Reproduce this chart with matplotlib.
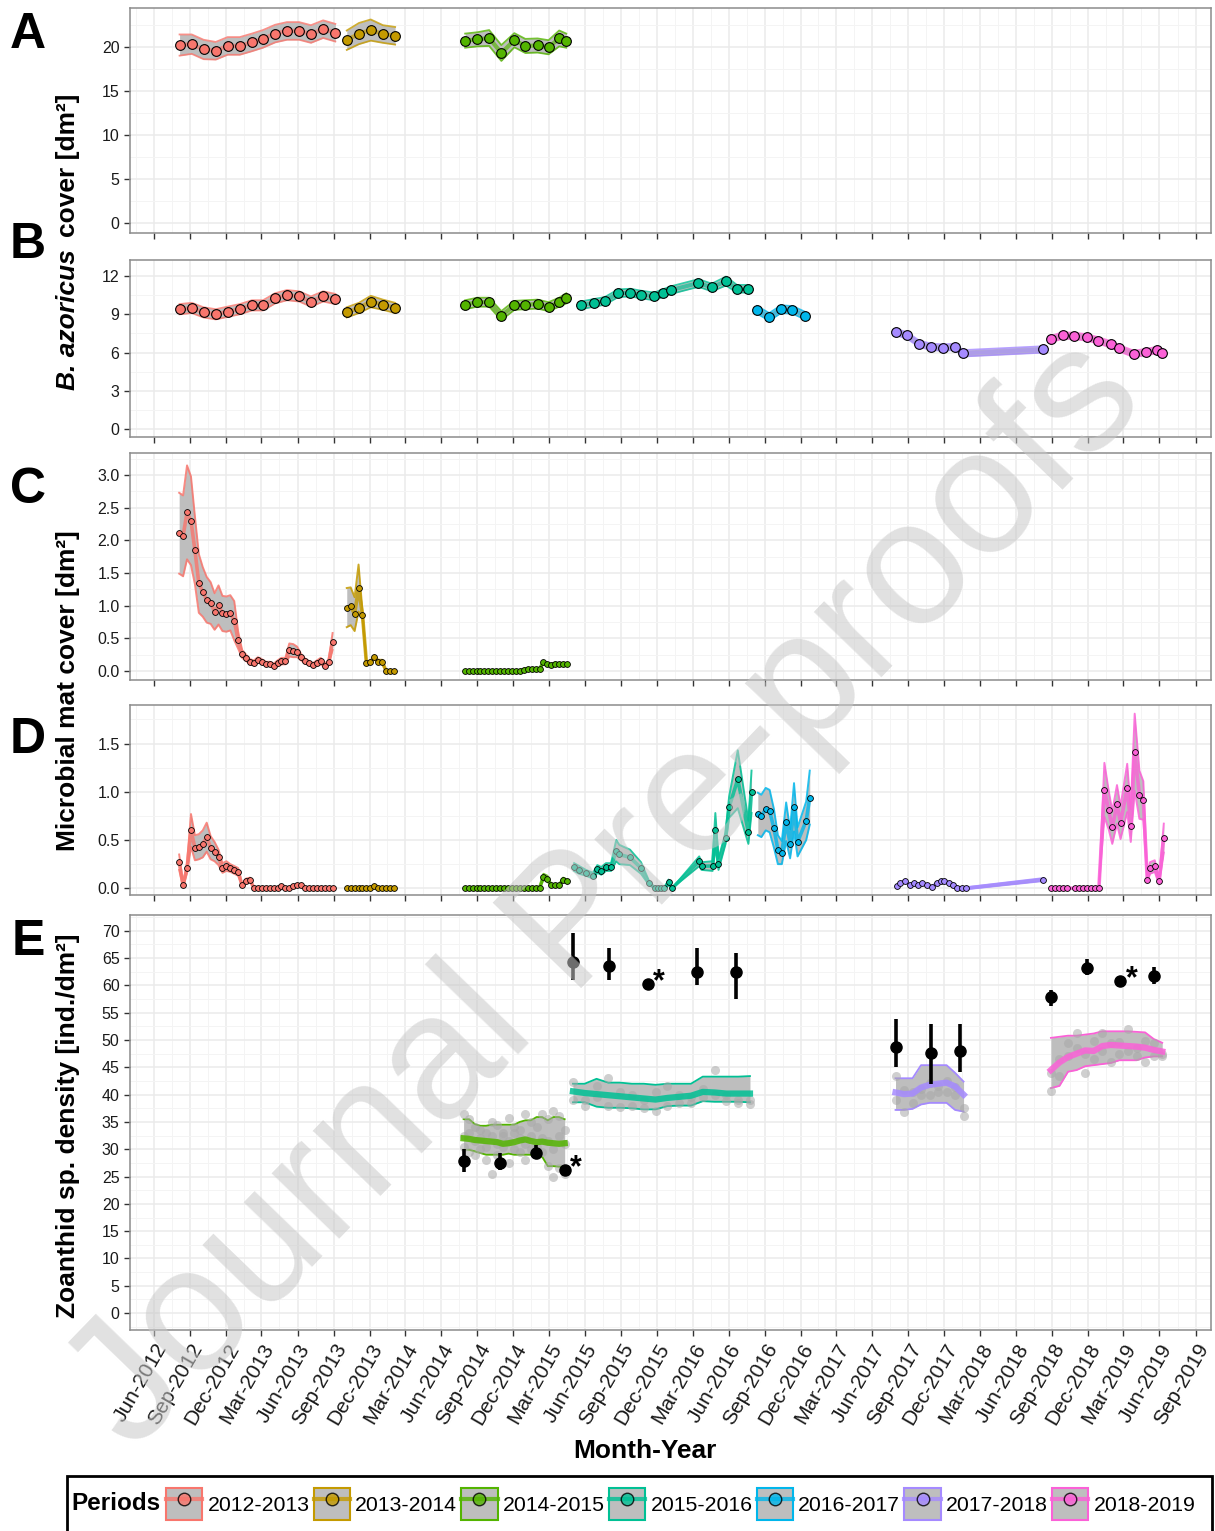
import numpy as np
import pandas as pd
import matplotlib
matplotlib.use('Agg')
import matplotlib.pyplot as plt
import matplotlib.dates as mdates
from matplotlib.ticker import MultipleLocator, FixedLocator, FormatStrFormatter
from matplotlib.patches import Patch, Rectangle
from matplotlib.lines import Line2D
from matplotlib.legend_handler import HandlerTuple

plt.rcParams['font.family'] = ['Liberation Sans', 'DejaVu Sans']

periods = ['2012-2013', '2013-2014', '2014-2015', '2015-2016', '2016-2017', '2017-2018', '2018-2019']
colors = ['#F8766D', '#C49A00', '#53B400', '#00C094', '#00B6EB', '#A58AFF', '#FB61D7']

# ---------------- panels A and B (monthly B. azoricus cover) ----------------
ab_dates_1213 = pd.date_range('2012-08-01', periods=14, freq='MS') + pd.Timedelta(days=4)
ab_dates_1314 = pd.date_range('2013-10-01', periods=5, freq='MS') + pd.Timedelta(days=3)
ab_dates_1415 = pd.to_datetime(['2014-08-01', '2014-09-01', '2014-10-01', '2014-11-01', '2014-12-04',
                                '2015-01-01', '2015-02-01', '2015-03-01', '2015-03-28', '2015-04-15'])
b_dates_1516 = pd.to_datetime(['2015-05-22', '2015-06-25', '2015-07-22', '2015-08-25', '2015-09-25',
                               '2015-10-22', '2015-11-25', '2015-12-16', '2016-01-07', '2016-03-16',
                               '2016-04-19', '2016-05-25', '2016-06-22', '2016-07-19'])
b_dates_1617 = pd.to_datetime(['2016-08-12', '2016-09-12', '2016-10-12', '2016-11-10', '2016-12-12'])
b_dates_1718 = pd.to_datetime(['2017-08-01', '2017-08-28', '2017-09-28', '2017-10-28', '2017-11-28',
                               '2017-12-28', '2018-01-18', '2018-08-10'])
b_dates_1819 = pd.to_datetime(['2018-08-28', '2018-09-28', '2018-10-28', '2018-11-28', '2018-12-28',
                               '2019-01-28', '2019-02-18', '2019-03-28', '2019-04-28', '2019-05-25',
                               '2019-06-07'])

a_1213 = [20.2, 20.3, 19.7, 19.55, 20.1, 20.1, 20.5, 20.9, 21.5, 21.8, 21.8, 21.45, 22.0, 21.6]
a_1213_se = [1.2, 1.1, 1.1, 1.0, 1.0, 1.0, 1.0, 1.0, 1.0, 1.0, 1.0, 1.0, 1.0, 1.0]
a_1314 = [20.75, 21.5, 21.9, 21.45, 21.25]
a_1314_se = [1.1, 1.2, 1.2, 1.0, 1.0]
a_1415 = [20.7, 20.85, 21.0, 19.3, 20.75, 20.1, 20.15, 19.95, 20.95, 20.7]
a_1415_se = [0.8, 0.8, 0.9, 0.9, 0.8, 0.8, 0.8, 0.8, 0.9, 0.8]

b_1213 = [9.4, 9.5, 9.15, 9.0, 9.2, 9.4, 9.7, 9.7, 10.25, 10.5, 10.4, 10.0, 10.4, 10.2]
b_1213_se = [0.4, 0.4, 0.4, 0.4, 0.4, 0.4, 0.4, 0.4, 0.4, 0.4, 0.4, 0.4, 0.4, 0.4]
b_1314 = [9.15, 9.5, 10.0, 9.75, 9.5]
b_1314_se = [0.4, 0.4, 0.45, 0.4, 0.4]
b_1415 = [9.75, 9.95, 9.95, 8.9, 9.7, 9.75, 9.8, 9.6, 9.95, 10.25]
b_1415_se = [0.35, 0.35, 0.35, 0.35, 0.35, 0.35, 0.35, 0.35, 0.35, 0.4]
b_1516 = [9.7, 9.9, 10.05, 10.65, 10.7, 10.55, 10.4, 10.65, 10.9, 11.45, 11.1, 11.6, 11.0, 11.0]
b_1516_se = [0.3, 0.3, 0.3, 0.3, 0.3, 0.3, 0.3, 0.3, 0.3, 0.3, 0.3, 0.35, 0.3, 0.3]
b_1617 = [9.35, 8.8, 9.4, 9.35, 8.9]
b_1617_se = [0.3, 0.3, 0.3, 0.3, 0.3]
b_1718 = [7.6, 7.35, 6.7, 6.45, 6.4, 6.45, 5.95, 6.25]
b_1718_se = [0.25, 0.25, 0.25, 0.25, 0.25, 0.25, 0.25, 0.25]
b_1819 = [7.05, 7.35, 7.3, 7.2, 6.95, 6.65, 6.35, 5.9, 6.05, 6.2, 6.0]
b_1819_se = [0.25, 0.25, 0.25, 0.25, 0.25, 0.25, 0.25, 0.25, 0.25, 0.25, 0.25]

# ---------------- panels C and D (microbial mat cover) ----------------
cd_dates_1213 = pd.date_range('2012-08-04', periods=40, freq='10D')
cd_dates_1314 = pd.date_range('2013-10-04', periods=13, freq='10D')
cd_dates_1415 = pd.date_range('2014-07-31', periods=27, freq='10D')

c_1213 = [2.11, 2.07, 2.43, 2.30, 1.85, 1.34, 1.21, 1.09, 1.04, 0.91,
          1.01, 0.88, 0.87, 0.89, 0.77, 0.47, 0.26, 0.20, 0.14, 0.12,
          0.17, 0.14, 0.11, 0.11, 0.08, 0.12, 0.15, 0.15, 0.32, 0.31,
          0.29, 0.21, 0.15, 0.12, 0.09, 0.12, 0.15, 0.08, 0.13, 0.45]
c_1213_se = [0.62, 0.62, 0.72, 0.68, 0.52, 0.45, 0.38, 0.35, 0.32, 0.28,
             0.30, 0.27, 0.27, 0.27, 0.30, 0.13, 0.06, 0.05, 0.04, 0.04,
             0.04, 0.04, 0.03, 0.03, 0.03, 0.04, 0.05, 0.05, 0.10, 0.10,
             0.08, 0.05, 0.04, 0.03, 0.03, 0.04, 0.05, 0.03, 0.04, 0.13]
c_1314 = [0.97, 0.99, 0.87, 1.27, 0.86, 0.12, 0.13, 0.21, 0.14, 0.14, 0.0, 0.0, 0.0]
c_1314_se = [0.30, 0.29, 0.26, 0.36, 0.06, 0.03, 0.02, 0.03, 0.03, 0.03, 0.0, 0.0, 0.0]
c_1415 = [0.0, 0.0, 0.0, 0.0, 0.0, 0.0, 0.0, 0.0, 0.0, 0.0, 0.0, 0.0, 0.0, 0.0, 0.0,
          0.02, 0.03, 0.03, 0.03, 0.03, 0.13, 0.10, 0.09, 0.11, 0.10, 0.10, 0.10]
c_1415_se = [0.0, 0.0, 0.0, 0.0, 0.0, 0.0, 0.0, 0.0, 0.0, 0.0, 0.0, 0.0, 0.0, 0.0, 0.0,
             0.01, 0.01, 0.01, 0.01, 0.01, 0.02, 0.02, 0.02, 0.02, 0.02, 0.02, 0.02]

d_1213 = [0.27, 0.03, 0.21, 0.60, 0.42, 0.43, 0.46, 0.53, 0.42, 0.38,
          0.32, 0.21, 0.23, 0.21, 0.19, 0.17, 0.03, 0.08, 0.09, 0.0,
          0.0, 0.0, 0.0, 0.0, 0.0, 0.0, 0.02, 0.0, 0.0, 0.02,
          0.03, 0.03, 0.0, 0.0, 0.0, 0.0, 0.0, 0.0, 0.0, 0.0]
d_1213_se = [0.08, 0.02, 0.05, 0.17, 0.13, 0.13, 0.14, 0.15, 0.12, 0.10,
             0.08, 0.05, 0.05, 0.04, 0.04, 0.04, 0.01, 0.02, 0.02, 0.0,
             0.0, 0.0, 0.0, 0.0, 0.0, 0.0, 0.01, 0.0, 0.0, 0.01,
             0.01, 0.01, 0.0, 0.0, 0.0, 0.0, 0.0, 0.0, 0.0, 0.0]
d_1314 = [0.0, 0.0, 0.0, 0.0, 0.0, 0.0, 0.0, 0.02, 0.0, 0.0, 0.0, 0.0, 0.0]
d_1314_se = [0.0, 0.0, 0.0, 0.0, 0.0, 0.0, 0.0, 0.01, 0.0, 0.0, 0.0, 0.0, 0.0]
d_1415 = [0.0, 0.0, 0.0, 0.0, 0.0, 0.0, 0.0, 0.0, 0.0, 0.0, 0.0, 0.0, 0.0, 0.0, 0.0,
          0.0, 0.0, 0.0, 0.0, 0.0, 0.12, 0.10, 0.03, 0.03, 0.03, 0.09, 0.07]
d_1415_se = [0.0, 0.0, 0.0, 0.0, 0.0, 0.0, 0.0, 0.0, 0.0, 0.0, 0.0, 0.0, 0.0, 0.0, 0.0,
             0.0, 0.0, 0.0, 0.0, 0.0, 0.03, 0.03, 0.01, 0.01, 0.01, 0.02, 0.02]

d_dates_1516 = pd.to_datetime(['2015-05-05', '2015-05-18', '2015-06-04', '2015-06-22', '2015-07-03',
                               '2015-07-13', '2015-07-25', '2015-08-07', '2015-08-20', '2015-08-28',
                               '2015-09-24', '2015-10-22', '2015-11-12', '2015-11-27', '2015-12-04',
                               '2015-12-12', '2015-12-20', '2015-12-31', '2016-01-09', '2016-03-18',
                               '2016-03-24', '2016-04-21', '2016-04-28', '2016-05-06', '2016-05-24',
                               '2016-06-02', '2016-06-24', '2016-07-21', '2016-07-29'])
d_1516 = [0.22, 0.19, 0.16, 0.13, 0.20, 0.18, 0.22, 0.22, 0.39, 0.35,
          0.32, 0.21, 0.05, 0.0, 0.0, 0.0, 0.0, 0.06, 0.0, 0.28,
          0.23, 0.23, 0.60, 0.25, 0.52, 0.84, 1.13, 0.58, 1.0]
d_1516_se = [0.04, 0.04, 0.03, 0.03, 0.04, 0.04, 0.04, 0.04, 0.11, 0.10,
             0.08, 0.06, 0.02, 0.0, 0.0, 0.0, 0.0, 0.03, 0.0, 0.05,
             0.04, 0.05, 0.18, 0.06, 0.06, 0.11, 0.30, 0.12, 0.22]
d_dates_1617 = pd.to_datetime(['2016-08-14', '2016-08-23', '2016-09-03', '2016-09-13', '2016-09-24',
                               '2016-10-04', '2016-10-14', '2016-10-25', '2016-11-04', '2016-11-14',
                               '2016-11-23', '2016-12-15', '2016-12-24'])
d_1617 = [0.77, 0.75, 0.82, 0.80, 0.62, 0.40, 0.37, 0.69, 0.46, 0.84, 0.48, 0.70, 0.94]
d_1617_se = [0.22, 0.22, 0.22, 0.22, 0.20, 0.15, 0.12, 0.20, 0.15, 0.25, 0.15, 0.20, 0.28]
d_dates_1718 = pd.to_datetime(['2017-08-02', '2017-08-11', '2017-08-24', '2017-09-04', '2017-09-15',
                               '2017-09-26', '2017-10-06', '2017-10-19', '2017-10-30', '2017-11-12',
                               '2017-11-22', '2017-12-01', '2017-12-13', '2017-12-23', '2018-01-03',
                               '2018-01-14', '2018-01-25', '2018-08-10'])
d_1718 = [0.02, 0.05, 0.08, 0.03, 0.05, 0.035, 0.05, 0.03, 0.01, 0.05,
          0.07, 0.07, 0.055, 0.035, 0.005, 0.0, 0.0, 0.09]
d_1718_se = [0.01, 0.01, 0.01, 0.01, 0.01, 0.01, 0.01, 0.01, 0.01, 0.01,
             0.01, 0.01, 0.01, 0.01, 0.01, 0.01, 0.01, 0.015]
d_dates_1819 = pd.to_datetime(['2018-08-29', '2018-09-09', '2018-09-19', '2018-09-29', '2018-10-09',
                               '2018-10-29', '2018-11-09', '2018-11-19', '2018-11-29', '2018-12-09',
                               '2018-12-19', '2018-12-29', '2019-01-12', '2019-01-23', '2019-02-01',
                               '2019-02-13', '2019-02-22', '2019-03-11', '2019-03-20', '2019-03-30',
                               '2019-04-11', '2019-04-21', '2019-05-01', '2019-05-08', '2019-05-20',
                               '2019-05-31', '2019-06-12'])
d_1819 = [0.0, 0.0, 0.0, 0.0, 0.0, 0.0, 0.0, 0.0, 0.0, 0.0, 0.0, 0.0,
          1.02, 0.81, 0.63, 0.87, 0.68, 1.04, 0.65, 1.41, 0.97, 0.91, 0.09, 0.21, 0.23, 0.07, 0.52]
d_1819_se = [0.0, 0.0, 0.0, 0.0, 0.0, 0.0, 0.0, 0.0, 0.0, 0.0, 0.0, 0.0,
             0.28, 0.20, 0.17, 0.20, 0.17, 0.25, 0.17, 0.40, 0.25, 0.20, 0.03, 0.06, 0.06, 0.03, 0.15]

# ---------------- panel E (zoanthid density) ----------------
e_dates_1415 = pd.date_range('2014-07-28', '2015-04-11', periods=19)
e_line_1415 = [32.0, 31.9, 31.7, 31.6, 31.5, 31.4, 31.3, 31.0, 31.1, 31.3, 31.6, 31.8, 31.5, 31.3, 31.4, 31.2, 31.1, 31.0, 31.1]
e_lo_1415 = [29.9, 29.9, 29.6, 29.3, 29.0, 29.0, 29.0, 29.0, 29.2, 29.0, 29.0, 29.0, 29.0, 28.6, 28.6, 26.9, 26.9, 26.8, 26.8]
e_hi_1415 = [35.5, 35.5, 34.6, 34.3, 34.3, 34.5, 34.5, 34.5, 34.5, 34.5, 35.0, 35.3, 35.3, 35.9, 35.9, 35.3, 35.9, 35.9, 35.5]
e_pts_1415_a = [36.5, 35.5, 34.0, 33.5, 33.0, 35.0, 34.5, 33.0, 35.8, 34.0, 33.5, 36.5, 35.0, 34.0, 36.5, 35.5, 37.0, 36.0, 33.5]
e_pts_1415_b = [30.5, 29.5, 29.0, 30.0, 28.0, 25.5, 29.0, 30.5, 27.5, 30.0, 29.5, 28.0, 30.0, 29.0, 29.5, 27.0, 25.0, 26.5, 25.5]
e_pts_1415_c = [32.5, 33.0, 31.5, 32.0, 30.5, 32.5, 31.0, 32.5, 31.5, 33.0, 32.0, 31.0, 32.5, 30.5, 32.0, 31.5, 30.0, 32.5, 31.0]

e_dates_1516 = pd.date_range('2015-05-02', '2016-07-25', periods=16)
e_line_1516 = [40.6, 40.3, 40.1, 39.9, 39.7, 39.5, 39.3, 39.1, 39.4, 39.6, 39.8, 40.5, 40.4, 40.2, 40.2, 40.2]
e_lo_1516 = [38.6, 38.6, 37.8, 37.6, 37.6, 37.5, 37.3, 37.3, 37.9, 38.0, 38.0, 38.8, 38.7, 38.7, 38.7, 38.6]
e_hi_1516 = [42.0, 42.0, 42.9, 42.2, 42.2, 42.0, 42.0, 41.8, 42.0, 42.0, 42.0, 43.3, 43.3, 43.3, 43.3, 43.4]
e_pts_1516_a = [42.3, 39.0, 41.5, 43.0, 40.5, 38.0, 37.5, 40.5, 41.5, 40.0, 39.5, 41.0, 44.5, 38.8, 39.0, 39.0]
e_pts_1516_b = [39.0, 38.0, 39.5, 38.0, 37.8, 40.0, 39.0, 37.0, 38.0, 38.5, 38.5, 39.5, 40.0, 40.0, 38.5, 38.2]

e_dates_1718 = pd.date_range('2017-07-30', '2018-01-19', periods=9)
e_line_1718 = [40.4, 40.1, 40.2, 41.3, 41.8, 42.0, 42.2, 41.5, 40.0]
e_lo_1718 = [37.2, 37.2, 37.4, 38.2, 38.5, 38.5, 38.5, 37.2, 36.9]
e_hi_1718 = [43.0, 43.0, 43.0, 45.4, 45.4, 45.4, 45.4, 44.0, 42.4]
e_pts_1718_a = [43.5, 40.9, 38.5, 41.0, 42.1, 40.5, 42.5, 41.4, 36.0]
e_pts_1718_b = [39.0, 36.9, 40.4, 40.0, 40.0, 41.5, 40.5, 40.0, 37.5]

e_dates_1819 = pd.date_range('2018-08-29', '2019-06-08', periods=14)
e_line_1819 = [44.5, 45.9, 46.9, 47.5, 48.1, 48.0, 48.9, 49.1, 49.0, 48.9, 48.8, 48.6, 48.2, 47.9]
e_lo_1819 = [41.2, 41.6, 44.2, 44.5, 45.2, 45.4, 45.6, 45.8, 46.3, 46.3, 46.3, 46.8, 47.0, 47.0]
e_hi_1819 = [50.4, 50.6, 50.8, 50.8, 51.0, 51.2, 51.6, 51.6, 51.6, 51.6, 51.5, 51.4, 50.2, 49.5]
e_pts_1819_a = [40.7, 43.5, 49.4, 51.3, 44.0, 49.8, 51.3, 45.9, 49.7, 52.0, 48.6, 49.8, 47.0, 47.5]
e_pts_1819_b = [44.0, 46.5, 47.0, 48.5, 47.5, 46.5, 48.0, 49.5, 47.5, 48.0, 47.0, 46.0, 49.5, 47.0]

# field counts (black points with range bars), asterisk = single survey
obs_dates = pd.to_datetime(['2014-07-28', '2014-10-28', '2015-01-29', '2015-04-11', '2015-05-02',
                            '2015-08-02', '2015-11-08', '2016-03-13', '2016-06-19', '2017-07-30',
                            '2017-10-29', '2018-01-10', '2018-08-29', '2018-11-29', '2019-02-21',
                            '2019-05-18'])
obs_mean = [27.9, 27.4, 29.3, 26.2, 64.3, 63.6, 60.3, 62.4, 62.4, 48.8, 47.7, 48.0, 57.8, 63.2, 60.8, 61.8]
obs_lo = [25.9, 26.2, 28.2, 26.2, 61.0, 61.0, 60.3, 60.1, 57.5, 45.0, 42.0, 44.2, 56.2, 61.9, 60.8, 60.3]
obs_hi = [30.0, 29.4, 30.8, 26.2, 69.6, 66.9, 60.3, 66.9, 66.0, 53.8, 53.0, 53.0, 59.1, 64.8, 60.8, 63.3]
obs_star = [False, False, False, True, False, False, True, False, False, False, False, False, False, False, True, False]

RIBBON = '#BEBEBE'
W, H = 1215, 1531
fig = plt.figure(figsize=(W / 100, H / 100), dpi=100)


def box(top, bottom):
    return [130 / W, 1 - bottom / H, (1211 - 130) / W, (bottom - top) / H]


x_start, x_end = pd.Timestamp('2012-04-01'), pd.Timestamp('2019-10-10')
majors = pd.date_range('2012-03-01', '2019-12-01', freq='3MS')
major_num = mdates.date2num(majors)
minor_num = (major_num[:-1] + major_num[1:]) / 2


def style(ax, ylim, ystep, fmt=None, labels=False):
    ax.set_xlim(x_start, x_end)
    ax.set_ylim(*ylim)
    ax.yaxis.set_major_locator(MultipleLocator(ystep))
    ax.yaxis.set_minor_locator(MultipleLocator(ystep / 2))
    if fmt:
        ax.yaxis.set_major_formatter(FormatStrFormatter(fmt))
    ax.xaxis.set_major_locator(FixedLocator(major_num))
    ax.xaxis.set_minor_locator(FixedLocator(minor_num))
    ax.xaxis.set_major_formatter(mdates.DateFormatter('%b-%Y'))
    ax.grid(which='major', color='#EBEBEB', lw=1.1)
    ax.grid(which='minor', color='#F4F4F4', lw=0.7)
    ax.set_axisbelow(True)
    for s in ax.spines.values():
        s.set_color('#8C8C8C')
        s.set_linewidth(1.1)
    ax.tick_params(which='major', length=4, width=1, color='#333333', labelsize=11.5, labelcolor='#1a1a1a')
    ax.tick_params(which='minor', length=0)
    if labels:
        ax.tick_params(axis='x', labelsize=15)
        plt.setp(ax.get_xticklabels(), rotation=60, ha='right', rotation_mode='anchor')
    else:
        ax.tick_params(axis='x', labelbottom=False)


def draw_big(ax, dates, vals, se, color):
    v, s = np.array(vals), np.array(se)
    ax.fill_between(dates, v - s, v + s, color=RIBBON, lw=0, zorder=2)
    ax.plot(dates, v + s, color=color, lw=1.3, alpha=0.8, zorder=3)
    ax.plot(dates, v - s, color=color, lw=1.3, alpha=0.8, zorder=3)
    ax.plot(dates, v, color=color, lw=3, alpha=0.65, zorder=3)
    ax.plot(dates, v, 'o', ms=7, mfc=color, mec='black', mew=0.8, zorder=4)


def draw_small(ax, dates, vals, se, color):
    v, s = np.array(vals), np.array(se)
    ax.fill_between(dates, v - s, v + s, color=RIBBON, lw=0, zorder=2)
    ax.plot(dates, v + s, color=color, lw=1.4, alpha=0.85, zorder=3)
    ax.plot(dates, v - s, color=color, lw=1.4, alpha=0.85, zorder=3)
    ax.plot(dates, v, color=color, lw=2.6, alpha=0.8, zorder=3)
    ax.plot(dates, v, 'o', ms=4.2, mfc=color, mec='black', mew=0.6, zorder=4)


def draw_density(ax, dates, line, lo, hi, pts, color):
    ax.fill_between(dates, lo, hi, color=RIBBON, lw=0, zorder=2)
    ax.plot(dates, hi, color=color, lw=1.3, zorder=3)
    ax.plot(dates, lo, color=color, lw=1.3, zorder=3)
    for p in pts:
        ax.plot(dates, p, 'o', ms=6.5, color='#A8A8A8', alpha=0.55, mec='none', zorder=4)
    ax.plot(dates, line, color=color, lw=4.5, alpha=0.85, zorder=5)


ax_a = fig.add_axes(box(8, 233))
ax_b = fig.add_axes(box(260, 437))
ax_c = fig.add_axes(box(453, 680))
ax_d = fig.add_axes(box(705, 895))
ax_e = fig.add_axes(box(915, 1330))

draw_big(ax_a, ab_dates_1213, a_1213, a_1213_se, colors[0])
draw_big(ax_a, ab_dates_1314, a_1314, a_1314_se, colors[1])
draw_big(ax_a, ab_dates_1415, a_1415, a_1415_se, colors[2])
style(ax_a, (-1.1, 24.4), 5)

draw_big(ax_b, ab_dates_1213, b_1213, b_1213_se, colors[0])
draw_big(ax_b, ab_dates_1314, b_1314, b_1314_se, colors[1])
draw_big(ax_b, ab_dates_1415, b_1415, b_1415_se, colors[2])
draw_big(ax_b, b_dates_1516, b_1516, b_1516_se, colors[3])
draw_big(ax_b, b_dates_1617, b_1617, b_1617_se, colors[4])
draw_big(ax_b, b_dates_1718, b_1718, b_1718_se, colors[5])
draw_big(ax_b, b_dates_1819, b_1819, b_1819_se, colors[6])
style(ax_b, (-0.6, 13.25), 3)

draw_small(ax_c, cd_dates_1213, c_1213, c_1213_se, colors[0])
draw_small(ax_c, cd_dates_1314, c_1314, c_1314_se, colors[1])
draw_small(ax_c, cd_dates_1415, c_1415, c_1415_se, colors[2])
style(ax_c, (-0.14, 3.34), 0.5, fmt='%.1f')

draw_small(ax_d, cd_dates_1213, d_1213, d_1213_se, colors[0])
draw_small(ax_d, cd_dates_1314, d_1314, d_1314_se, colors[1])
draw_small(ax_d, cd_dates_1415, d_1415, d_1415_se, colors[2])
draw_small(ax_d, d_dates_1516, d_1516, d_1516_se, colors[3])
draw_small(ax_d, d_dates_1617, d_1617, d_1617_se, colors[4])
draw_small(ax_d, d_dates_1718, d_1718, d_1718_se, colors[5])
draw_small(ax_d, d_dates_1819, d_1819, d_1819_se, colors[6])
style(ax_d, (-0.07, 1.9), 0.5, fmt='%.1f')

draw_density(ax_e, e_dates_1415, e_line_1415, e_lo_1415, e_hi_1415,
             [e_pts_1415_a, e_pts_1415_b, e_pts_1415_c], colors[2])
draw_density(ax_e, e_dates_1516, e_line_1516, e_lo_1516, e_hi_1516,
             [e_pts_1516_a, e_pts_1516_b], colors[3])
draw_density(ax_e, e_dates_1718, e_line_1718, e_lo_1718, e_hi_1718,
             [e_pts_1718_a, e_pts_1718_b], colors[5])
draw_density(ax_e, e_dates_1819, e_line_1819, e_lo_1819, e_hi_1819,
             [e_pts_1819_a, e_pts_1819_b], colors[6])
m = np.array(obs_mean)
yerr = [m - np.array(obs_lo), np.array(obs_hi) - m]
ax_e.errorbar(obs_dates, m, yerr=yerr, fmt='o', color='black', ms=8, elinewidth=2.6,
              capsize=0, zorder=6)
for d, v, star in zip(obs_dates, obs_mean, obs_star):
    if star:
        ax_e.annotate('*', (d, v), xytext=(4, 1), textcoords='offset points', fontsize=22,
                      fontweight='bold', ha='left', va='center', zorder=7)
style(ax_e, (-3.1, 72.9), 5, labels=True)

# panel letters
for letter, y in zip('ABCDE', [35, 245, 490, 740, 942]):
    fig.text(28 / W, 1 - y / H, letter, fontsize=36, fontweight='bold', ha='center', va='center')

# y axis titles
t1 = fig.text(68 / W, 1 - 390 / H, 'B. azoricus', rotation=90, rotation_mode='anchor',
              ha='left', va='center', fontsize=19, fontweight='bold', style='italic')
fig.canvas.draw()
bb = t1.get_window_extent()
fig.text(68 / W, (bb.y1 + 12) / H, 'cover [dm²]', rotation=90, rotation_mode='anchor',
         ha='left', va='center', fontsize=19, fontweight='bold')
fig.text(68 / W, 1 - 691 / H, 'Microbial mat cover [dm²]', rotation=90,
         ha='center', va='center', fontsize=19, fontweight='bold')
fig.text(68 / W, 1 - 1126 / H, 'Zoanthid sp. density [ind./dm²]', rotation=90,
         ha='center', va='center', fontsize=19, fontweight='bold')
fig.text(645 / W, 1 - 1451 / H, 'Month-Year', ha='center', va='center', fontsize=19, fontweight='bold')

# legend
handles = [(Patch(facecolor=RIBBON, edgecolor=c, lw=1.5),
            Line2D([], [], color=c, lw=3, alpha=0.8, marker='o', ms=9, mfc=c, mec='black'))
           for c in colors]
fig.legend(handles, periods, handler_map={tuple: HandlerTuple(ndivide=1)},
           loc='center left', bbox_to_anchor=(166 / W, 1 - 1504 / H), ncol=7, frameon=False,
           fontsize=15.3, handlelength=1.7, handleheight=2.0, handletextpad=0.25,
           columnspacing=0.2, borderpad=0, borderaxespad=0)
fig.text(71 / W, 1 - 1504 / H, 'Periods', fontsize=17.5, fontweight='bold', ha='left', va='center')
fig.add_artist(Rectangle((67 / W, -0.01), (1212 - 67) / W, (1531 - 1476) / H + 0.01,
                         transform=fig.transFigure, fill=False, ec='black', lw=2))

# watermark (kept inside the canvas)
fig.text(0.5, 1 - 895 / H, 'Journal Pre-proofs', fontsize=128, color='#C8C8C8', alpha=0.55,
         rotation=46, ha='center', va='center', zorder=20)

fig.savefig('out.png', dpi=100)
